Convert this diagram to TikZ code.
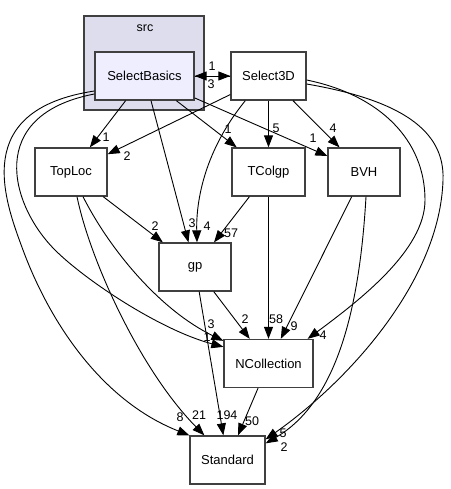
\documentclass[tikz,border=0pt]{standalone}
\usepackage{fontspec}
\setmainfont{Liberation Sans}
\usetikzlibrary{arrows.meta}
\definecolor{boxgray}{RGB}{64,64,64}
\definecolor{clusterfill}{RGB}{221,221,238}
\definecolor{selfill}{RGB}{238,238,255}

\begin{document}
\begin{tikzpicture}[x=1pt,y=-1pt,
	box/.style={draw=boxgray,line width=1.3pt,fill=white,minimum height=48pt,inner sep=0pt,font=\fontsize{13}{15}\selectfont},
	dep/.style={line width=0.9pt,-{Triangle[length=12pt,width=9pt]}},
	lbl/.style={inner sep=0pt,font=\fontsize{12.5}{14}\selectfont}]
	\useasboundingbox (0,0) rectangle (450,489);
	% src folder
	\draw[draw=boxgray,line width=1.3pt,fill=clusterfill] (84,16) rectangle (204,110);
	\node[lbl] (srcname) at (145,28) {src};
	\node[box,fill=selfill,minimum width=99pt] (sb) at (144.5,76) {SelectBasics};
	\node[box,minimum width=75pt] (sel3d) at (268.5,76) {Select3D};
	\node[box,minimum width=72pt] (toploc) at (71,172) {TopLoc};
	\node[box,minimum width=73pt] (tcolgp) at (268.5,172) {TColgp};
	\node[box,minimum width=72pt] (bvh) at (364,172) {BVH};
	\node[box,minimum width=72pt] (gp) at (195,267) {gp};
	\node[box,minimum width=89pt] (ncoll) at (268.5,363.5) {NCollection};
	\node[box,minimum width=75pt] (std) at (227.5,460) {Standard};
	% SelectBasics
	\draw[dep] (sb) -- (sel3d);
	\draw[dep] (sel3d) -- (sb);
	\draw[dep] (sb) -- (toploc);
	\draw[dep] (sb) -- (gp);
	\draw[dep] (sb) -- (tcolgp);
	\draw[dep] (sb) -- (bvh);
	\draw[dep] ([yshift=-15pt]sb.west) .. controls (-30,110) and (4.5,200) .. (23,250)
		.. controls (49,320) and (100,400) .. (std.north west);
	\draw[dep] ([yshift=-18pt]sb.west) .. controls (-15,115) and (10,205) .. (55,250)
		.. controls (85,280) and (160,330) .. ([yshift=-8pt]ncoll.north west);
	% Select3D
	\draw[dep] (sel3d) -- (toploc);
	\draw[dep] (sel3d) -- (tcolgp);
	\draw[dep] (sel3d) -- (bvh);
	\draw[dep] ([xshift=15pt]sel3d.south west) .. controls (205,150) and (196,200) .. ([xshift=2pt]gp.north);
	\draw[dep] ([yshift=-4pt]sel3d.east) .. controls (380,95) and (425,140) .. (425,200)
		.. controls (425,250) and (360,300) .. ([xshift=-6pt]ncoll.north east);
	\draw[dep] ([yshift=-8pt]sel3d.east) .. controls (400,100) and (445,130) .. (443,180)
		.. controls (440,280) and (350,380) .. ([yshift=-4pt]std.north east);
	% TopLoc
	\draw[dep] (toploc) -- (gp);
	\draw[dep] ([xshift=6pt]toploc.south) .. controls (90,260) and (140,370) .. ([xshift=15pt]std.north west);
	\draw[dep] ([xshift=12pt]toploc.south) .. controls (110,250) and (160,310) .. ([yshift=-2pt]ncoll.north west);
	% TColgp, BVH
	\draw[dep] (tcolgp) -- (gp);
	\draw[dep] (tcolgp) -- (ncoll);
	\draw[dep] (bvh) -- (ncoll);
	\draw[dep] ([xshift=2pt]bvh.south) .. controls (360,300) and (340,400) .. ([yshift=-8pt]std.north east);
	% gp, NCollection
	\draw[dep] (gp) -- (ncoll);
	\draw[dep] (gp) -- (std);
	\draw[dep] (ncoll) -- (std);
	% edge counts
	\node[lbl] (n1) at (212,66) {1};
	\node[lbl] (n2) at (211,84) {3};
	\node[lbl] (n3) at (106,137) {1};
	\node[lbl] (n4) at (127,156) {2};
	\node[lbl] (n5) at (228,129) {1};
	\node[lbl] (n6) at (276,128) {5};
	\node[lbl] (n7) at (313,138) {1};
	\node[lbl] (n8) at (333,128) {4};
	\node[lbl] (n9) at (155,226) {2};
	\node[lbl] (n10) at (192,223) {3};
	\node[lbl] (n11) at (207,226) {4};
	\node[lbl] (n12) at (231,233) {57};
	\node[lbl] (n13) at (211,324) {3};
	\node[lbl] (n14) at (207,337) {1};
	\node[lbl] (n15) at (245,319) {2};
	\node[lbl] (n16) at (276,319) {58};
	\node[lbl] (n17) at (294,326) {9};
	\node[lbl] (n18) at (323,335) {4};
	\node[lbl] (n19) at (180,417) {8};
	\node[lbl] (n20) at (199,415) {21};
	\node[lbl] (n21) at (227,415) {194};
	\node[lbl] (n22) at (252,421) {50};
	\node[lbl] (n23) at (283,433) {5};
	\node[lbl] (n24) at (284,447) {2};
\end{tikzpicture}
\end{document}
